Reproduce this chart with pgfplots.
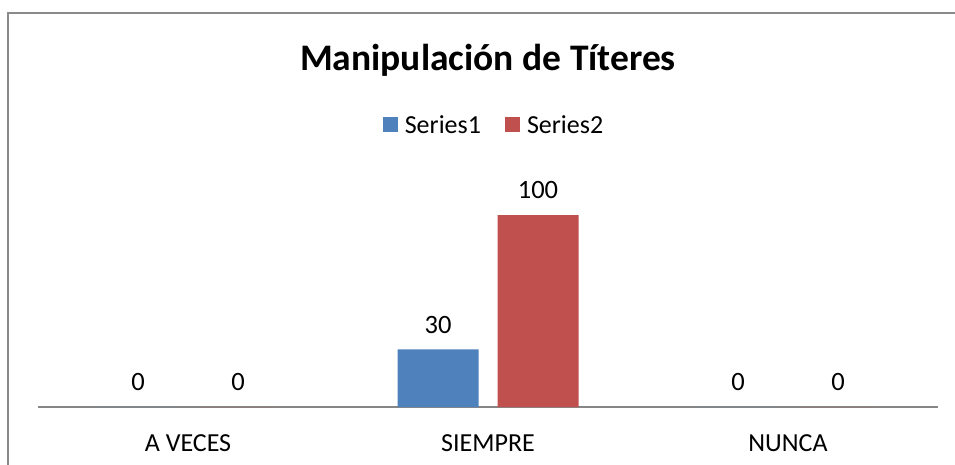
\documentclass[border=0pt]{standalone}
\usepackage{pgfplots}
\pgfplotsset{compat=1.18}
\usepackage{fontspec}
\setmainfont{Carlito}
\definecolor{sblue}{HTML}{4F81BD}
\definecolor{sred}{HTML}{C0504D}
\definecolor{axgray}{HTML}{868686}
\definecolor{framegray}{HTML}{8A8A8A}
\begin{document}
\begin{tikzpicture}
\path[use as bounding box] (0,0) rectangle (955pt,464pt);
\draw[framegray, line width=2pt] (8pt,-5pt) -- (8pt,451pt) -- (960pt,451pt);
\begin{axis}[
  at={(38pt,57pt)}, anchor=south west,
  scale only axis, width=900pt, height=230.4pt,
  xmin=-0.5, xmax=2.5, ymin=0, ymax=120,
  axis x line=bottom, axis y line=none,
  x axis line style={-, draw=axgray, line width=1.5pt},
  xtick={0,1,2}, xticklabels={A VECES,SIEMPRE,NUNCA},
  major tick length=0pt,
  xticklabel style={anchor=base, inner sep=0pt, yshift=-44pt, font=\fontsize{26}{30}\selectfont},
  ybar, bar width=81pt,
  /pgf/number format/assume math mode=true,
  nodes near coords,
  nodes near coords style={anchor=south, inner sep=0pt, yshift=16pt, font=\fontsize{26.5}{30}\selectfont, text=black},
  title={\bfseries Manipulación de Títeres},
  title style={at={(0.5,1)}, anchor=base, inner sep=0pt, yshift=99.6pt, font=\fontsize{37.5}{44}\selectfont},
  legend style={at={(0.5,1)}, anchor=center, yshift=51.6pt, xshift=6pt, draw=none, fill=none,
    legend columns=2, font=\fontsize{26}{30}\selectfont,
    /tikz/every odd column/.append style={column sep=5pt},
    /tikz/every even column/.append style={column sep=22pt}},
  legend image code/.code={\fill[#1] (0pt,-7.5pt) rectangle (15pt,7.5pt);},
]
\addplot[fill=sblue, draw=none, bar shift=-50pt] coordinates {(0,0) (1,30) (2,0)};
\addplot[fill=sred, draw=none, bar shift=50pt] coordinates {(0,0) (1,100) (2,0)};
\legend{Series1,Series2}
\end{axis}
\end{tikzpicture}
\end{document}
